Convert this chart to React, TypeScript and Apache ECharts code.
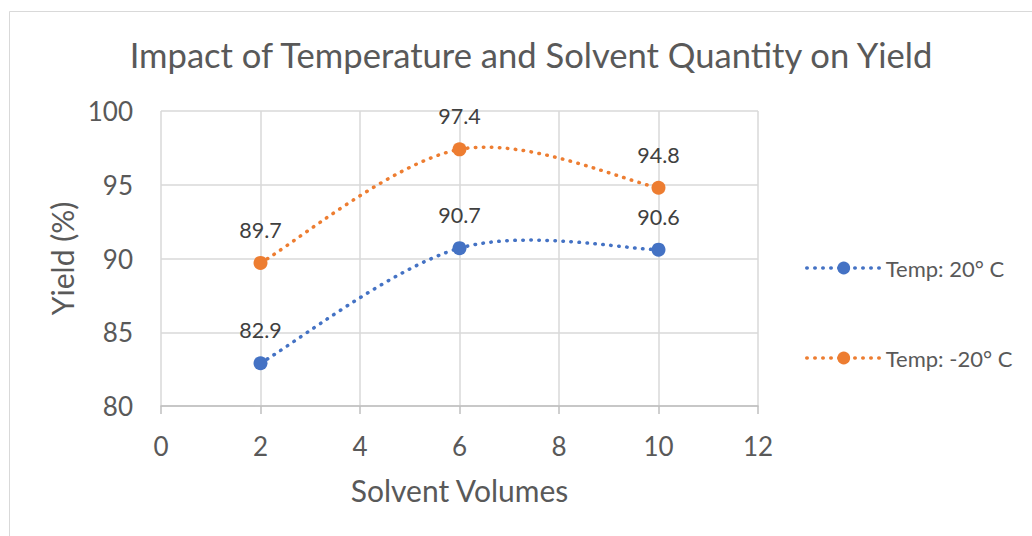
import React, { useEffect, useRef } from "react";
import * as echarts from "echarts";

const solventVolumes = [2, 6, 10];
const yield20 = [82.9, 90.7, 90.6];
const yieldMinus20 = [89.7, 97.4, 94.8];
const seriesNames = ["Temp: 20° C", "Temp: -20° C"];
const seriesColors = ["#4472C4", "#ED7D31"];
const titleText = "Impact of Temperature and Solvent Quantity on Yield";
const xAxisName = "Solvent Volumes";
const yAxisName = "Yield (%)";

const FONT = "Lato, 'Open Sans', sans-serif";
const DASH = [0.5, 7.5];

export default function App() {
  const ref = useRef<HTMLDivElement>(null);
  useEffect(() => {
    if (!ref.current) return;
    const chart = echarts.init(ref.current, undefined, { renderer: "svg" });

    // Excel-style smoothed curve (Catmull-Rom bezier) through the data points, via the axis scales
    const curve = (name: string, vals: number[], color: string) => ({
      name,
      type: "custom",
      coordinateSystem: "cartesian2d",
      z: 1,
      silent: true,
      data: solventVolumes.map((x, i) => [x, vals[i]]),
      encode: { x: 0, y: 1 },
      renderItem: (params: any, api: any) => {
        const i = params.dataIndex;
        const n = solventVolumes.length;
        if (i >= n - 1) return { type: "group", children: [] };
        const P = solventVolumes.map((x, j) => api.coord([x, vals[j]]));
        const p0 = P[Math.max(i - 1, 0)];
        const p1 = P[i];
        const p2 = P[i + 1];
        const p3 = P[Math.min(i + 2, n - 1)];
        return {
          type: "bezierCurve",
          shape: {
            x1: p1[0],
            y1: p1[1],
            cpx1: p1[0] + (p2[0] - p0[0]) / 6,
            cpy1: p1[1] + (p2[1] - p0[1]) / 6,
            cpx2: p2[0] - (p3[0] - p1[0]) / 6,
            cpy2: p2[1] - (p3[1] - p1[1]) / 6,
            x2: p2[0],
            y2: p2[1],
          },
          style: {
            fill: "none",
            stroke: color,
            lineWidth: 3.5,
            lineDash: DASH,
            lineCap: "round",
          },
        };
      },
    });

    const points = (name: string, vals: number[], color: string) => ({
      name,
      type: "line",
      z: 3,
      data: solventVolumes.map((x, i) => [x, vals[i]]),
      symbol: "circle",
      symbolSize: 14,
      itemStyle: { color },
      lineStyle: { color, width: 0, opacity: 0 },
      label: {
        show: true,
        position: "top",
        distance: 15,
        color: "#404040",
        fontSize: 21.5,
        fontFamily: FONT,
      },
    });

    chart.setOption({
      animation: false,
      backgroundColor: "#ffffff",
      title: {
        text: titleText,
        left: 526,
        top: 32,
        textAlign: "center",
        textStyle: { color: "#595959", fontSize: 34.6, fontWeight: "normal", fontFamily: FONT },
      },
      graphic: [
        {
          type: "rect",
          shape: { x: 9.5, y: 11.5, width: 1100, height: 600 },
          style: { fill: "none", stroke: "#d9d9d9", lineWidth: 1 },
          silent: true,
        },
      ],
      legend: {
        orient: "vertical",
        left: 800,
        top: 252,
        itemGap: 68,
        itemWidth: 74,
        itemHeight: 16,
        textStyle: { color: "#595959", fontSize: 22, fontFamily: FONT },
        data: seriesNames.map((nm, k) => ({
          name: nm,
          itemStyle: { color: seriesColors[k], opacity: 1 },
          lineStyle: { color: seriesColors[k], width: 3.5, type: DASH, cap: "round", opacity: 1 },
        })),
      },
      grid: { left: 161, top: 111, width: 597, height: 295, containLabel: false },
      xAxis: {
        type: "value",
        min: 0,
        max: 12,
        interval: 2,
        name: xAxisName,
        nameLocation: "middle",
        nameGap: 69,
        nameTextStyle: { color: "#595959", fontSize: 30, fontFamily: FONT },
        axisLine: { show: true, lineStyle: { color: "#bfbfbf", width: 1.5 } },
        axisTick: { show: true, length: 8, lineStyle: { color: "#bfbfbf", width: 1.5 } },
        axisLabel: { color: "#595959", fontSize: 26, fontFamily: FONT, margin: 27 },
        splitLine: { show: true, lineStyle: { color: "#d9d9d9", width: 1.5 } },
      },
      yAxis: {
        type: "value",
        min: 80,
        max: 100,
        interval: 5,
        name: yAxisName,
        nameLocation: "middle",
        nameGap: 81,
        nameTextStyle: { color: "#595959", fontSize: 30, fontFamily: FONT },
        axisLine: { show: false },
        axisTick: { show: false },
        axisLabel: { color: "#595959", fontSize: 26, fontFamily: FONT, margin: 28 },
        splitLine: { show: true, lineStyle: { color: "#d9d9d9", width: 1.5 } },
      },
      series: [
        points(seriesNames[0], yield20, seriesColors[0]),
        points(seriesNames[1], yieldMinus20, seriesColors[1]),
        curve(seriesNames[0], yield20, seriesColors[0]),
        curve(seriesNames[1], yieldMinus20, seriesColors[1]),
      ],
    });
    return () => chart.dispose();
  }, []);
  return (
    <div
      ref={ref}
      style={{ position: "fixed", left: 0, top: 0, width: 1032, height: 536, background: "#fff" }}
    />
  );
}
